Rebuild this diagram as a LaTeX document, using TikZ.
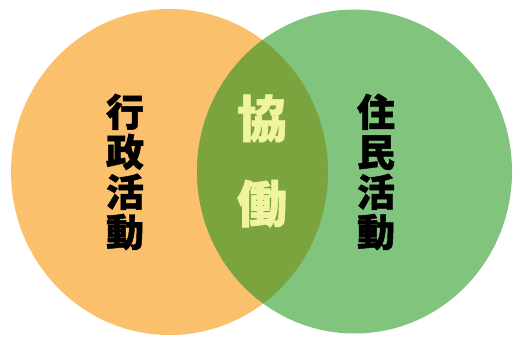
\documentclass[tikz,border=0pt]{standalone}
\usepackage{fontspec}
\newfontfamily\cjk[BoldFeatures={FakeBold=1.2}]{Noto Sans CJK JP}
\definecolor{orangefill}{RGB}{250,192,108}
\definecolor{greenfill}{RGB}{128,196,126}
\definecolor{overlapfill}{RGB}{124,164,62}
\definecolor{paleyellow}{RGB}{240,244,160}
\tikzset{
  colstyle/.style={align=center, inner sep=0pt},
}
\begin{document}
\begin{tikzpicture}[x=1pt,y=-1pt]
\useasboundingbox (0,0) rectangle (513,338);
\fill[white] (0,0) rectangle (513,338);
\fill[orangefill] (169.5,172) ellipse [x radius=158.5, y radius=163];
\fill[greenfill] (354.5,171.5) ellipse [x radius=157.5, y radius=162];
\begin{scope}
  \clip (169.5,172) ellipse [x radius=158.5, y radius=163];
  \fill[overlapfill] (354.5,171.5) ellipse [x radius=157.5, y radius=162];
\end{scope}
\node[colstyle, font={\cjk\bfseries\fontsize{38}{40}\selectfont}] (left) at (125,172) {行\\政\\活\\動};
\node[colstyle, font={\cjk\bfseries\fontsize{38}{40}\selectfont}] (right) at (376,172) {住\\民\\活\\動};
\node[colstyle, text=paleyellow, font={\cjk\bfseries\fontsize{50}{85}\selectfont}] (mid) at (262,161) {協\\働};
\end{tikzpicture}
\end{document}
